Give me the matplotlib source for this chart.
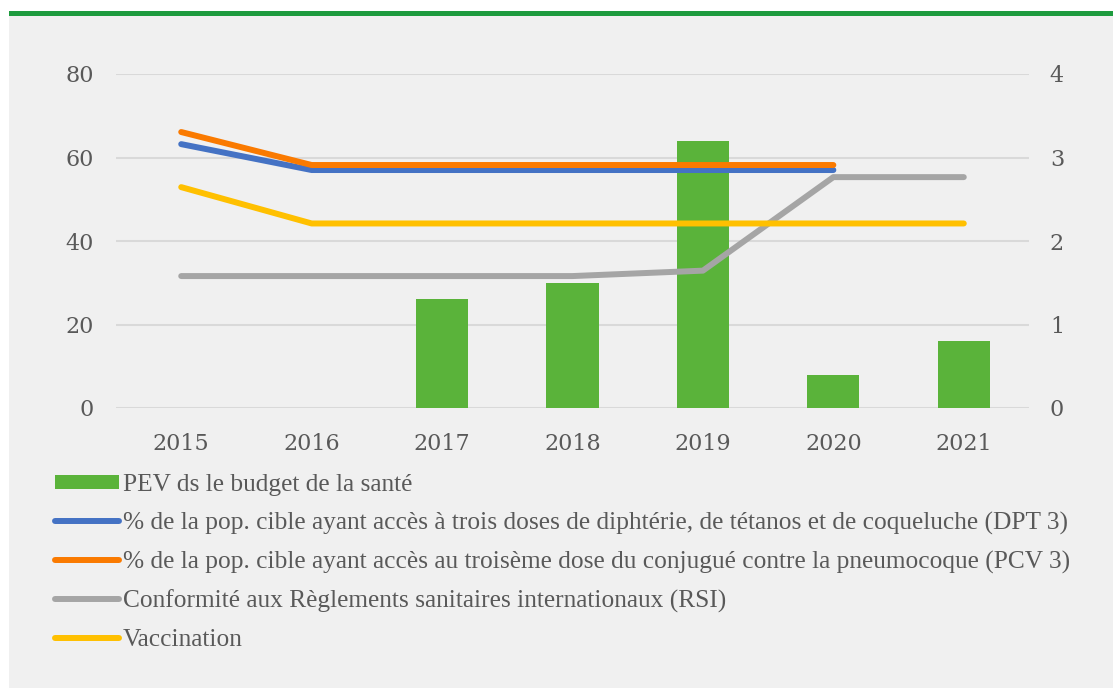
import matplotlib
matplotlib.use("Agg")
import matplotlib.pyplot as plt
from matplotlib.patches import Rectangle
import numpy as np

years = ["2015", "2016", "2017", "2018", "2019", "2020", "2021"]
pev_budget = [np.nan, np.nan, 26, 30, 64, 8, 16]
dpt3 = [63.2, 57.0, 57.0, 57.0, 57.0, 57.0, np.nan]
pcv3 = [66.1, 58.2, 58.2, 58.2, 58.2, 58.2, np.nan]
rsi = [31.6, 31.6, 31.6, 31.6, 32.9, 55.3, 55.3]
vaccination = [52.9, 44.2, 44.2, 44.2, 44.2, 44.2, 44.2]
left_ticks = [0, 20, 40, 60, 80]
right_ticks = [0, 1, 2, 3, 4]

labels = [
    "PEV ds le budget de la santé",
    "% de la pop. cible ayant accès à trois doses de diphtérie, de tétanos et de coqueluche (DPT 3)",
    "% de la pop. cible ayant accès au troisème dose du conjugué contre la pneumocoque (PCV 3)",
    "Conformité aux Règlements sanitaires internationaux (RSI)",
    "Vaccination",
]

W, H = 1113, 688
fig = plt.figure(figsize=(W / 100, H / 100), dpi=100)
fig.patch.set_facecolor("white")
fig.add_artist(Rectangle((9 / W, 0), 1, (H - 16) / H, transform=fig.transFigure,
                         facecolor="#f0f0f0", edgecolor="none", zorder=0))
fig.add_artist(Rectangle((9 / W, (H - 16) / H), 1, 5.5 / H, transform=fig.transFigure,
                         facecolor="#1e9b3e", edgecolor="none", zorder=0))

ax = fig.add_axes([116 / W, (H - 408) / H, (1029 - 116) / W, (408 - 74) / H])
ax.set_facecolor("none")
ax2 = ax.twinx()

x = np.arange(len(years))
text_color = "#595959"

bars = ax.bar(x, pev_budget, width=0.4, color="#5ab33a", zorder=2, label=labels[0])
lw = 4.3
l1, = ax.plot(x, dpt3, color="#4472c4", lw=lw, solid_capstyle="round", zorder=3, label=labels[1])
l2, = ax.plot(x, pcv3, color="#fa7a00", lw=lw, solid_capstyle="round", zorder=4, label=labels[2])
l3, = ax.plot(x, rsi, color="#a5a5a5", lw=lw, solid_capstyle="round", zorder=3, label=labels[3])
l4, = ax.plot(x, vaccination, color="#ffc000", lw=lw, solid_capstyle="round", zorder=3, label=labels[4])

ax.set_xlim(-0.5, len(years) - 0.5)
ax.set_ylim(0, 80)
ax.set_yticks(left_ticks)
ax.set_xticks(x)
ax.set_xticklabels(years)
ax2.set_ylim(0, 4)
ax2.set_yticks(right_ticks)

for a in (ax, ax2):
    for s in a.spines.values():
        s.set_visible(False)
    a.tick_params(length=0)
ax.grid(axis="y", color="#d9d9d9", lw=1.5, zorder=0)
ax.set_axisbelow(True)
ax.tick_params(axis="y", pad=16)
ax.tick_params(axis="x", pad=18)
ax2.tick_params(axis="y", pad=15)
for lab in ax.get_yticklabels() + ax.get_xticklabels() + ax2.get_yticklabels():
    lab.set_fontfamily("DejaVu Serif")
    lab.set_fontsize(16)
    lab.set_color(text_color)

leg = fig.legend(handles=[bars, l1, l2, l3, l4], labels=labels,
                 loc="upper left", bbox_to_anchor=(45 / W, (H - 464) / H),
                 frameon=False, prop=dict(family="Liberation Serif", size=18.3),
                 handlelength=2.5, handletextpad=0.15, labelspacing=0.62,
                 borderaxespad=0, handleheight=0.5)
for t in leg.get_texts():
    t.set_color(text_color)

fig.savefig("out.png", dpi=100, facecolor=fig.get_facecolor())
